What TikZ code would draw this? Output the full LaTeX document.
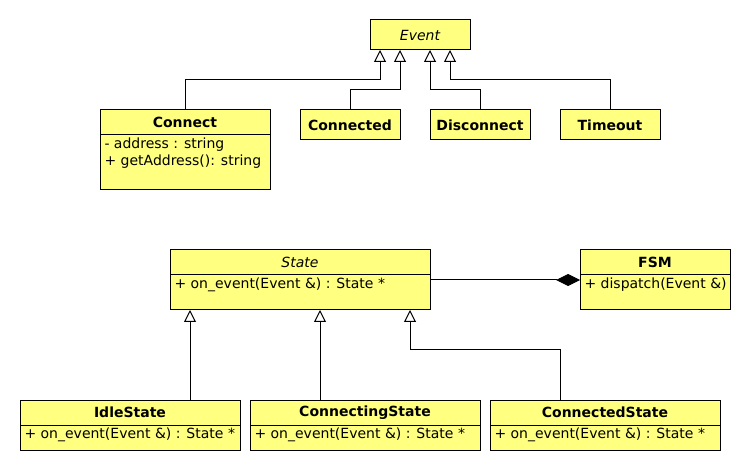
\documentclass[tikz,border=0pt]{standalone}
\usepackage{fontspec}
\setmainfont{DejaVu Sans}
\usetikzlibrary{positioning,arrows.meta}
\definecolor{umlyellow}{HTML}{FFFF80}

\begin{document}
\begin{tikzpicture}
[x=0.75pt,y=-0.75pt,line width=0.75pt,
classhead/.style={
	draw,
	fill=umlyellow,
	anchor=north west,
	inner sep=0pt,
	outer sep=0pt,
	minimum height=18.75pt,
	font=\fontsize{10.5}{12}\selectfont\bfseries,
    },
classbody/.style={
	draw,
	fill=umlyellow,
	anchor=north,
	inner sep=0pt,
	outer sep=0pt,
    },
members/.style={
	anchor=north west,
	inner sep=0pt,
	align=left,
	font=\fontsize{10.5}{12.75}\selectfont,
    },
inherit/.style={-{Triangle[open,length=9pt,width=9pt]}},
compose/.style={-{Diamond[length=18pt,width=9pt]}},]
\useasboundingbox (0,0) rectangle (750,470);

% draw the events
\node[classhead, minimum width=75pt, minimum height=22.5pt, font=\fontsize{10.5}{12}\selectfont\itshape] (event) at (370,20) {Event};
\node[classhead, minimum width=127.5pt] (connect) at (100,110) {Connect};
\node[classbody, minimum width=127.5pt, minimum height=41.25pt] (connectbody) at (connect.south) {};
\node[members, below right=1.5pt and 3pt of connectbody.north west] (connectmembers) {- address : string\\+ getAddress(): string};
\node[classhead, minimum width=75pt, minimum height=22.5pt] (connected) at (300,110) {Connected};
\node[classhead, minimum width=75pt, minimum height=22.5pt] (disconnect) at (430,110) {Disconnect};
\node[classhead, minimum width=75pt, minimum height=22.5pt] (timeout) at (560,110) {Timeout};

% draw the states
\node[classhead, minimum width=195pt, font=\fontsize{10.5}{12}\selectfont\itshape] (state) at (170,250) {State};
\node[classbody, minimum width=195pt, minimum height=26.25pt] (statebody) at (state.south) {};
\node[members, below right=1.5pt and 3pt of statebody.north west] (statemembers) {+ on\_event(Event \&) : State *};
\node[classhead, minimum width=112.5pt] (fsm) at (580,250) {FSM};
\node[classbody, minimum width=112.5pt, minimum height=26.25pt] (fsmbody) at (fsm.south) {};
\node[members, below right=1.5pt and 3pt of fsmbody.north west] (fsmmembers) {+ dispatch(Event \&)};
\node[classhead, minimum width=165pt] (idle) at (20,400) {IdleState};
\node[classbody, minimum width=165pt, minimum height=18.75pt] (idlebody) at (idle.south) {};
\node[members, below right=1.5pt and 3pt of idlebody.north west] (idlemembers) {+ on\_event(Event \&) : State *};
\node[classhead, minimum width=172.5pt] (connecting) at (250,400) {ConnectingState};
\node[classbody, minimum width=172.5pt, minimum height=18.75pt] (connectingbody) at (connecting.south) {};
\node[members, below right=1.5pt and 3pt of connectingbody.north west] (connectingmembers) {+ on\_event(Event \&) : State *};
\node[classhead, minimum width=172.5pt] (cdstate) at (490,400) {ConnectedState};
\node[classbody, minimum width=172.5pt, minimum height=18.75pt] (cdstatebody) at (cdstate.south) {};
\node[members, below right=1.5pt and 3pt of cdstatebody.north west] (cdstatemembers) {+ on\_event(Event \&) : State *};

%draw lines
\draw[inherit] (connect.north) -- ++(0,-30) -| ([xshift=7.5pt]event.south west);
\draw[inherit] (connected.north) -- ++(0,-20) -| ([xshift=22.5pt]event.south west);
\draw[inherit] (disconnect.north) -- ++(0,-20) -| ([xshift=45pt]event.south west);
\draw[inherit] (timeout.north) -- ++(0,-30) -| ([xshift=60pt]event.south west);
\draw[inherit] ([xshift=127.5pt]idle.north west) -- ([xshift=15pt]statebody.south west);
\draw[inherit] ([xshift=52.5pt]connecting.north west) -- ([xshift=112.5pt]statebody.south west);
\draw[inherit] ([xshift=52.5pt]cdstate.north west) -- ++(0,-50) -| ([xshift=180pt]statebody.south west);
\draw[compose] ([yshift=-3.75pt]statebody.north east) -- ([yshift=-3.75pt]fsmbody.north west);
\end{tikzpicture}
\end{document}
